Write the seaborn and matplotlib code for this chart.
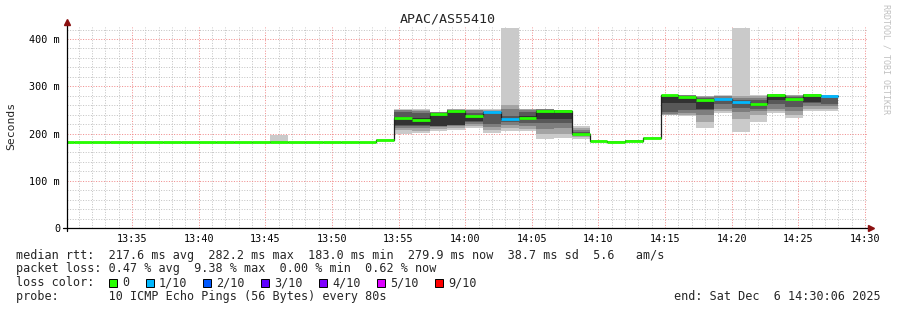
import matplotlib
matplotlib.use("Agg")
import matplotlib.pyplot as plt
from matplotlib.ticker import MultipleLocator, FixedLocator
from matplotlib.patches import Rectangle
from matplotlib.lines import Line2D
import seaborn as sns
import pandas as pd

# ---------------- data ----------------
TITLE = "APAC/AS55410"
STEP_S = 80                 # seconds per bin
FIRST_BIN_S = -40           # first bin start, seconds relative to 13:30:00

# median RTT per 80 s bin (ms)
median_ms = [183, 183, 183, 183, 183, 183, 183, 183, 183, 183, 183, 183,
             183, 183, 183, 183, 183, 183, 186,
             232, 229, 241, 247, 237, 246, 230, 233, 248, 247, 200,
             184, 183, 185, 190,
             281, 277, 270, 274, 267, 262, 282, 274, 282, 279]
# lost pings (of 10) per bin
loss_cnt = [0, 0, 0, 0, 0, 0, 0, 0, 0, 0, 0, 0,
            0, 0, 0, 0, 0, 0, 0,
            0, 0, 0, 0, 0, 1, 1, 0, 0, 0, 0,
            0, 0, 0, 0,
            0, 0, 0, 1, 1, 0, 0, 0, 0, 1]

# individual sorted pings (ms) for bins that show smoke
smoke_bins = [12, 18, 19, 20, 21, 22, 23, 24, 25, 26, 27, 28, 29, 30, 31, 32,
              33, 34, 35, 36, 37, 38, 39, 40, 41, 42, 43]
smoke_pings = [
    [182, 183, 183, 183, 183, 183, 183, 183, 184, 197],
    [184, 185, 185, 186, 186, 186, 186, 187, 187, 188],
    [200, 207, 212, 216, 217, 235, 246, 249, 250, 251],
    [201, 206, 211, 216, 218, 232, 244, 248, 250, 251],
    [205, 209, 213, 215, 216, 243, 244, 245, 245, 245],
    [207, 211, 215, 217, 218, 248, 250, 250, 251, 251],
    [212, 215, 220, 225, 226, 236, 244, 249, 250, 251],
    [201, 207, 214, 220, 221, 243, 248, 250, 251],
    [205, 212, 218, 225, 228, 236, 251, 260, 423],
    [205, 210, 215, 222, 228, 236, 245, 250, 251, 252],
    [188, 200, 210, 222, 230, 246, 250, 251, 252, 252],
    [190, 200, 212, 222, 230, 246, 249, 250, 250, 250],
    [188, 192, 196, 199, 200, 201, 204, 208, 212, 216],
    [182, 183, 183, 184, 184, 184, 184, 185, 185, 186],
    [182, 182, 183, 183, 183, 183, 183, 184, 184, 184],
    [183, 184, 184, 185, 185, 185, 185, 186, 186, 187],
    [188, 189, 189, 190, 190, 190, 190, 191, 191, 192],
    [239, 240, 242, 246, 264, 278, 280, 281, 282, 282],
    [237, 240, 244, 250, 264, 277, 280, 281, 281, 281],
    [212, 225, 240, 250, 252, 268, 276, 278, 279, 279],
    [243, 248, 252, 262, 268, 274, 279, 280, 281],
    [204, 230, 245, 253, 267, 271, 276, 280, 423],
    [225, 240, 248, 251, 259, 262, 270, 276, 279, 281],
    [244, 248, 252, 262, 270, 280, 282, 283, 283, 283],
    [233, 240, 248, 256, 270, 275, 278, 280, 281, 281],
    [248, 252, 258, 264, 267, 278, 281, 283, 283, 283],
    [248, 252, 258, 262, 264, 276, 279, 281, 281],
]

x_tick_min = [5, 10, 15, 20, 25, 30, 35, 40, 45, 50, 55, 60]
x_tick_labels = ["13:35", "13:40", "13:45", "13:50", "13:55", "14:00",
                 "14:05", "14:10", "14:15", "14:20", "14:25", "14:30"]
y_ticks = [0, 100, 200, 300, 400]
y_tick_labels = ["0", "100 m", "200 m", "300 m", "400 m"]

loss_levels = ["0", "1/10", "2/10", "3/10", "4/10", "5/10", "9/10"]
loss_colors = ["#26ff00", "#00b8ff", "#0059ff", "#5e00ff", "#7e00ff",
               "#dd00ff", "#ff0000"]
loss_key = [0, 1, 2, 3, 4, 5, 9]

line_rtt = "median rtt:  217.6 ms avg  282.2 ms max  183.0 ms min  279.9 ms now  38.7 ms sd  5.6   am/s"
line_loss = "packet loss: 0.47 % avg  9.38 % max  0.00 % min  0.62 % now"
line_probe = "probe:       10 ICMP Echo Pings (56 Bytes) every 80s"
line_end = "end: Sat Dec  6 14:30:06 2025"

# ---------------- figure ----------------
sns.set_style("white")
plt.rcParams["font.family"] = ["DejaVu Sans Mono", "DejaVu Sans"]

W, H = 897, 310
fig = plt.figure(figsize=(W / 100, H / 100), dpi=100)
fig.patch.set_facecolor("white")


def fx(px):
    return px / W


def fy(py):
    return 1 - py / H


L, R, T, B = 67, 867, 27, 228
ax = fig.add_axes([fx(L), fy(B), (R - L) / W, (B - T) / H])
ax.set_facecolor("white")

PX_PER_MIN = 13.327
x_left = 0.12
x_right = x_left + (R - L) / PX_PER_MIN
ax.set_xlim(x_left, x_right)
ax.set_ylim(0, (B - T) / 0.4725)

# grid
ax.xaxis.set_major_locator(FixedLocator(x_tick_min))
ax.xaxis.set_minor_locator(MultipleLocator(1))
ax.yaxis.set_major_locator(FixedLocator(y_ticks))
ax.yaxis.set_minor_locator(MultipleLocator(20))
ax.set_xticklabels(x_tick_labels)
ax.set_yticklabels(y_tick_labels)
ax.grid(which="minor", color="#c4c4c4", linestyle=(0, (1, 1.6)), linewidth=0.72)
ax.grid(which="major", color="#f08c8c", linestyle=(0, (1, 1.6)), linewidth=0.72)
ax.set_axisbelow(True)
for s in ax.spines.values():
    s.set_visible(False)
ax.tick_params(axis="x", which="both", length=0, pad=4.5, labelsize=7.3,
               colors="black")
ax.tick_params(axis="y", which="major", length=2.5, width=0.72, pad=2.5,
               labelsize=7.3, colors="black", direction="out")
ax.tick_params(axis="y", which="minor", length=0)

# smoke
bin_w = STEP_S / 60.0
for b, p in zip(smoke_bins, smoke_pings):
    x0 = (FIRST_BIN_S + STEP_S * b) / 60.0
    n = len(p)
    for i in range(n // 2):
        g = 202 - 38 * i
        ax.bar(x0, p[n - 1 - i] - p[i], bottom=p[i], width=bin_w, align="edge",
               color="#%02x%02x%02x" % (g, g, g), linewidth=0, zorder=2)

# black median step line
starts = [(FIRST_BIN_S + STEP_S * i) / 60.0 for i in range(len(median_ms))]
ends = [s + bin_w for s in starts]
df = pd.DataFrame({"t": starts + [ends[-1]], "ms": median_ms + [median_ms[-1]]})
sns.lineplot(data=df, x="t", y="ms", drawstyle="steps-post", color="#202020",
             linewidth=0.9, estimator=None, sort=False, ax=ax, zorder=3)

# coloured median segments
seg_colors = [loss_colors[loss_key.index(c)] for c in loss_cnt]
ax.hlines(median_ms, starts, ends, colors=seg_colors, linewidth=2.0, zorder=4,
          capstyle="butt")
ax.set_xlabel("")
ax.set_ylabel("")

# axis lines and arrows
fig.add_artist(Line2D([fx(63), fx(869)], [fy(B), fy(B)], color="black", lw=0.9))
fig.add_artist(Line2D([fx(L), fx(L)], [fy(B + 3), fy(24)], color="black", lw=0.9))
fig.add_artist(Line2D([fx(871)], [fy(B)], marker=">", markersize=4,
                      color="#8b1010", lw=0))
fig.add_artist(Line2D([fx(L)], [fy(22)], marker="^", markersize=4,
                      color="#8b1010", lw=0))

# texts
fig.text(fx(448), fy(19), TITLE, ha="center", va="center", fontsize=9.6)
fig.text(fx(11), fy(126), "Seconds", ha="center", va="center", rotation=90,
         fontsize=8.2)
fig.text(fx(886), fy(59), "RRDTOOL / TOBI OETIKER", ha="center", va="center",
         rotation=270, fontsize=6.0, color="#c0c0c0")

FS = 8.5
fig.text(fx(16), fy(255), line_rtt, ha="left", va="center", fontsize=FS)
fig.text(fx(16), fy(268.5), line_loss, ha="left", va="center", fontsize=FS)
fig.text(fx(16), fy(282.5), "loss color:", ha="left", va="center", fontsize=FS)
fig.text(fx(16), fy(296.5), line_probe, ha="left", va="center", fontsize=FS)
fig.text(fx(881), fy(296.5), line_end, ha="right", va="center", fontsize=FS)

sq_cx = [112.5, 149.5, 207, 265, 323, 381, 439]
for cx, col, lab in zip(sq_cx, loss_colors, loss_levels):
    fig.add_artist(Rectangle((fx(cx - 4), fy(286.5)), 8 / W, 8 / H,
                             facecolor=col, edgecolor="black", linewidth=0.7))
    fig.text(fx(cx + 9.5), fy(282.5), lab, ha="left", va="center", fontsize=FS)

fig.savefig("out.png", dpi=100, facecolor="white")
